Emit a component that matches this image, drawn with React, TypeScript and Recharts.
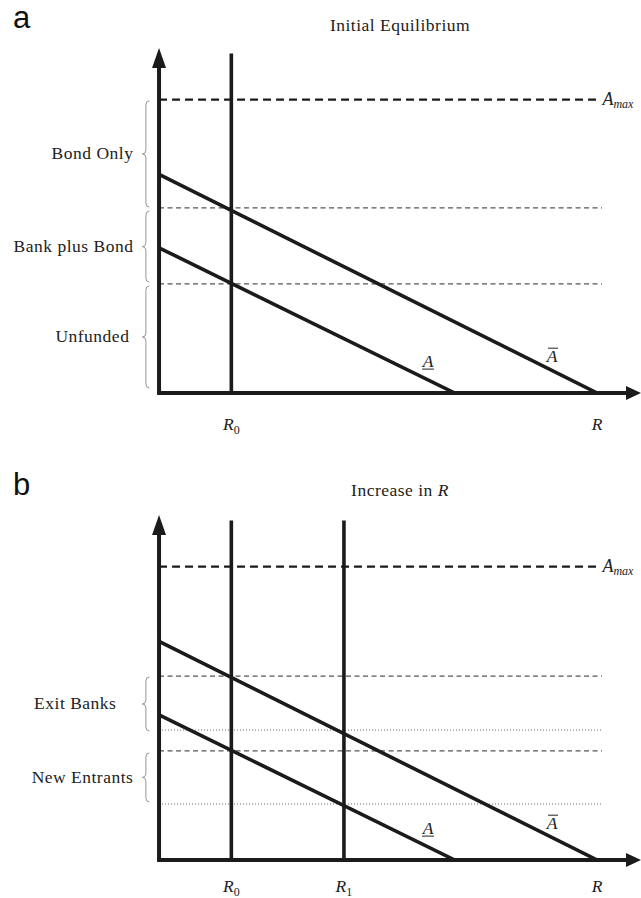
import React from 'react'
import { ComposedChart, Line, XAxis, YAxis, ReferenceLine, ReferenceDot } from 'recharts'

// horizontal axis: R, vertical axis: A
const R0 = 1.65
const R1 = 4.22
const R_BAR = 10
const A_MAX = 10

const UPPER_LINE = [{ r: 0, a: 7.45 }, { r: R_BAR, a: 0 }]
const LOWER_LINE = [{ r: 0, a: 4.95 }, { r: 6.75, a: 0 }]

const TICKS_A = [R0, R_BAR]
const TICK_SUBS_A = ['0', '']
const VERTICALS_A = [R0]
const DASHED_A = [6.31, 3.72]
const DOTTED_A: number[] = []
const BRACES_A = [
    { lo: 6.34, hi: 9.96, label: 'Bond Only' },
    { lo: 3.78, hi: 6.2, label: 'Bank plus Bond' },
    { lo: 0.17, hi: 3.65, label: 'Unfunded' },
]

const TICKS_B = [R0, R1, R_BAR]
const TICK_SUBS_B = ['0', '1', '']
const VERTICALS_B = [R0, R1]
const DASHED_B = [6.27, 3.72]
const DOTTED_B = [4.43, 1.91]
const BRACES_B = [
    { lo: 4.4, hi: 6.24, label: 'Exit Banks' },
    { lo: 1.98, hi: 3.65, label: 'New Entrants' },
]

const LINE_LABELS = [
    { r: 6.14, a: 0.9, mark: 'under' },
    { r: 8.97, a: 1.05, mark: 'over' },
]

const INK = '#1b1b1b'
const SERIF = '"Liberation Serif", "Times New Roman", serif'
const SANS = '"Liberation Sans", Arial, sans-serif'
const LEVEL_END = 10.11
const V_TOP = 11.57
const BRACE_X = -0.22
const LABEL_PAD: Record<string, number> = { Unfunded: 13, 'Exit Banks': 26 }

function Brace(props: any) {
    const { x1, y1, y2, label } = props
    const top = Math.min(y1, y2)
    const bot = Math.max(y1, y2)
    const xr = x1
    const xl = x1 - 7
    const xm = x1 - 3.5
    const ym = (top + bot) / 2
    const r = 4
    const d = `M${xr},${top} Q${xm},${top} ${xm},${top + r} L${xm},${ym - r} Q${xm},${ym} ${xl},${ym} Q${xm},${ym} ${xm},${ym + r} L${xm},${bot - r} Q${xm},${bot} ${xr},${bot}`
    return (
        <g>
            <path d={d} fill="none" stroke="#8a8a8a" strokeWidth={0.9} />
            <text x={xl - (LABEL_PAD[label] ?? 9)} y={ym + 5.5} textAnchor="end" fontFamily={SERIF} fontSize={17.5} letterSpacing={0.5} fill="#222">
                {label}
            </text>
        </g>
    )
}

function LineLabel({ cx, cy, mark }: any) {
    return (
        <g>
            <text x={cx} y={cy} textAnchor="middle" fontFamily={SERIF} fontStyle="italic" fontSize={17.5} fill="#222">A</text>
            {mark === 'under'
                ? <line x1={cx - 6} x2={cx + 6} y1={cy + 2.5} y2={cy + 2.5} stroke="#222" strokeWidth={1} />
                : <line x1={cx - 4} x2={cx + 6} y1={cy - 14} y2={cy - 14} stroke="#222" strokeWidth={1} />}
        </g>
    )
}

function AmaxLabel({ cx, cy }: any) {
    return (
        <text x={cx} y={cy + 5} fontFamily={SERIF} fontStyle="italic" fontSize={18} fill="#222">
            A<tspan fontSize={12} dy={3}>max</tspan>
        </text>
    )
}

const UpArrow = ({ cx, cy }: any) => <path d={`M${cx},${cy} L${cx - 7},${cy + 20} L${cx + 7},${cy + 20} Z`} fill={INK} />
const RightArrow = ({ cx, cy }: any) => <path d={`M${cx},${cy} L${cx - 15},${cy - 7} L${cx - 15},${cy + 7} Z`} fill={INK} />

function RTick({ x, y, payload, ticks, subs, drop }: any) {
    const i = ticks.findIndex((t: number) => Math.abs(t - payload.value) < 1e-6)
    const sub = i >= 0 ? subs[i] : ''
    return (
        <text x={x} y={y + drop} textAnchor="middle" fontFamily={SERIF} fontSize={17.5} fill="#222">
            <tspan fontStyle="italic">R</tspan>
            {sub && <tspan fontSize={12} dy={4}>{sub}</tspan>}
        </text>
    )
}

type PanelProps = {
    height: number
    marginTop: number
    tickDrop: number
    ticks: number[]
    subs: string[]
    verticals: number[]
    dashed: number[]
    dotted: number[]
    braces: { lo: number; hi: number; label: string }[]
}

function Panel({ height, marginTop, tickDrop, ticks, subs, verticals, dashed, dotted, braces }: PanelProps) {
    return (
        <ComposedChart width={641} height={height} margin={{ top: marginTop, right: 0, bottom: height - marginTop - 352 - 36, left: 0 }}>
            <XAxis
                type="number"
                dataKey="r"
                domain={[-3.63, 11]}
                allowDataOverflow
                ticks={ticks}
                interval={0}
                axisLine={false}
                tickLine={false}
                height={36}
                tick={(p: any) => <RTick {...p} ticks={ticks} subs={subs} drop={tickDrop} />}
            />
            <YAxis type="number" dataKey="a" domain={[0, 12]} allowDataOverflow hide width={0} />

            <ReferenceLine segment={[{ x: 0, y: A_MAX }, { x: 10.07, y: A_MAX }]} stroke={INK} strokeWidth={2.2} strokeDasharray="8 5" />
            {dashed.map((v) => (
                <ReferenceLine key={`d${v}`} segment={[{ x: 0, y: v }, { x: LEVEL_END, y: v }]} stroke="#555" strokeWidth={1.1} strokeDasharray="5 3.5" />
            ))}
            {dotted.map((v) => (
                <ReferenceLine key={`o${v}`} segment={[{ x: 0, y: v }, { x: LEVEL_END, y: v }]} stroke="#666" strokeWidth={1} strokeDasharray="1 2" />
            ))}
            {verticals.map((v) => (
                <ReferenceLine key={`v${v}`} segment={[{ x: v, y: 0 }, { x: v, y: V_TOP }]} stroke={INK} strokeWidth={3.6} />
            ))}
            {braces.map((b) => (
                <ReferenceLine
                    key={b.label}
                    segment={[{ x: BRACE_X, y: b.hi }, { x: BRACE_X, y: b.lo }]}
                    shape={(p: any) => <Brace {...p} label={b.label} />}
                />
            ))}

            <ReferenceLine segment={[{ x: 0, y: 0 }, { x: 0, y: 11.3 }]} stroke={INK} strokeWidth={4} />
            <ReferenceLine segment={[{ x: -0.045, y: 0 }, { x: 10.75, y: 0 }]} stroke={INK} strokeWidth={4} />
            <ReferenceDot x={0} y={11.76} r={0} shape={UpArrow} />
            <ReferenceDot x={11} y={0} r={0} shape={RightArrow} />

            <Line data={UPPER_LINE} dataKey="a" type="linear" stroke={INK} strokeWidth={3.6} dot={false} activeDot={false} isAnimationActive={false} />
            <Line data={LOWER_LINE} dataKey="a" type="linear" stroke={INK} strokeWidth={3.6} dot={false} activeDot={false} isAnimationActive={false} />

            <ReferenceDot x={10.12} y={A_MAX} r={0} shape={AmaxLabel} />
            {LINE_LABELS.map((l) => (
                <ReferenceDot key={l.mark} x={l.r} y={l.a} r={0} shape={(p: any) => <LineLabel {...p} mark={l.mark} />} />
            ))}
        </ComposedChart>
    )
}

export default function App() {
    return (
        <div style={{ position: 'absolute', left: 0, top: 0, width: 641, height: 898, background: '#fff', overflow: 'hidden' }}>
            <div style={{ position: 'absolute', left: 0, top: 0 }}>
                <Panel height={448} marginTop={41} tickDrop={29} ticks={TICKS_A} subs={TICK_SUBS_A} verticals={VERTICALS_A} dashed={DASHED_A} dotted={DOTTED_A} braces={BRACES_A} />
            </div>
            <div style={{ position: 'absolute', left: 0, top: 448 }}>
                <Panel height={450} marginTop={60} tickDrop={24} ticks={TICKS_B} subs={TICK_SUBS_B} verticals={VERTICALS_B} dashed={DASHED_B} dotted={DOTTED_B} braces={BRACES_B} />
            </div>
            <svg width={641} height={898} style={{ position: 'absolute', left: 0, top: 0, pointerEvents: 'none' }}>
                <text x={13} y={28} fontFamily={SANS} fontSize={31} fill="#111">a</text>
                <text x={400} y={31} textAnchor="middle" fontFamily={SERIF} fontSize={17.5} letterSpacing={0.5} fill="#222">Initial Equilibrium</text>
                <text x={13} y={495} fontFamily={SANS} fontSize={31} fill="#111">b</text>
                <text x={400} y={496} textAnchor="middle" fontFamily={SERIF} fontSize={17.5} letterSpacing={0.5} fill="#222">
                    Increase in <tspan fontStyle="italic">R</tspan>
                </text>
            </svg>
        </div>
    )
}
